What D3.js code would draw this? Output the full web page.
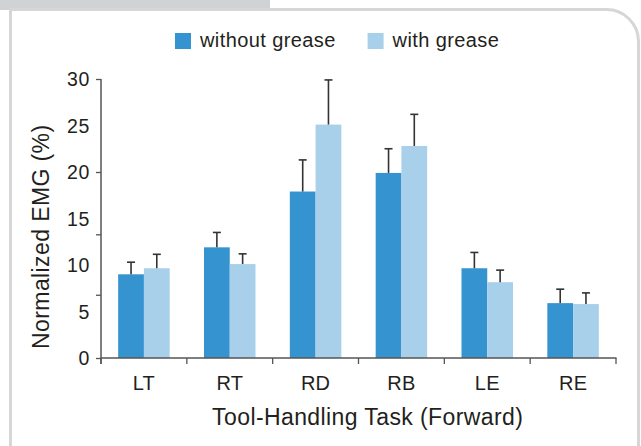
<!DOCTYPE html>
<html>
<head>
<meta charset="utf-8">
<script src="https://cdn.jsdelivr.net/npm/d3@7"></script>
<style>
  body { margin: 0; background: #fff; }
  svg text { font-family: "Liberation Sans", Arial, sans-serif; fill: #231f20; }
</style>
</head>
<body>
<div id="chart"></div>
<script>
// Chart values
var categories = ["LT", "RT", "RD", "RB", "LE", "RE"];
var seriesNames = ["without grease", "with grease"];
var withoutGrease = [9.0, 11.9, 17.9, 19.9, 9.65, 5.9];
var withoutGreaseErr = [1.3, 1.6, 3.4, 2.6, 1.7, 1.5];
var withGrease = [9.65, 10.1, 25.1, 22.8, 8.15, 5.8];
var withGreaseErr = [1.5, 1.1, 4.8, 3.4, 1.3, 1.2];
var yTickLabels = [0, 5, 10, 15, 20, 25, 30];
var yTickMarks = [0, 6.8, 13.3, 20, 30];

var width = 641, height = 446;
var colors = {"without grease": "#3593d0", "with grease": "#a9d0ea"};

var svg = d3.select("#chart").append("svg")
  .attr("width", width)
  .attr("height", height);

// Panel: tab at top left, rounded white box with gray border
svg.append("rect")
  .attr("x", 0).attr("y", 0)
  .attr("width", 270).attr("height", 10)
  .attr("fill", "#d1d2d4");
svg.append("path")
  .attr("d", "M10.5,460 L10.5,9.5 L606,9.5 A32,32 0 0 1 638.5,41.5 L638.5,460")
  .attr("fill", "none")
  .attr("stroke", "#d6d6d6")
  .attr("stroke-width", 3);

// Scales
var y = d3.scaleLinear().domain([0, 30]).range([358, 79]);
var x0 = d3.scaleBand().domain(categories).range([101, 616]);
var x1 = d3.scaleBand().domain(seriesNames)
  .range([x0.bandwidth() * 0.2, x0.bandwidth() * 0.8]);

// Build rows for each bar
var rows = [];
categories.forEach(function(c, i) {
  rows.push({cat: c, s: seriesNames[0], v: withoutGrease[i], e: withoutGreaseErr[i]});
  rows.push({cat: c, s: seriesNames[1], v: withGrease[i], e: withGreaseErr[i]});
});

// Bars
svg.append("g").selectAll("rect")
  .data(rows)
  .enter().append("rect")
  .attr("x", function(d) { return x0(d.cat) + x1(d.s); })
  .attr("y", function(d) { return y(d.v); })
  .attr("width", x1.bandwidth())
  .attr("height", function(d) { return y(0) - y(d.v); })
  .attr("fill", function(d) { return colors[d.s]; });

// Error bars (upper only)
var err = svg.append("g")
  .attr("stroke", "#333")
  .attr("stroke-width", 1.6);
err.selectAll("line.stem")
  .data(rows)
  .enter().append("line")
  .attr("class", "stem")
  .attr("x1", function(d) { return x0(d.cat) + x1(d.s) + x1.bandwidth() / 2; })
  .attr("x2", function(d) { return x0(d.cat) + x1(d.s) + x1.bandwidth() / 2; })
  .attr("y1", function(d) { return y(d.v); })
  .attr("y2", function(d) { return y(d.v + d.e); });
err.selectAll("line.cap")
  .data(rows)
  .enter().append("line")
  .attr("class", "cap")
  .attr("x1", function(d) { return x0(d.cat) + x1(d.s) + x1.bandwidth() / 2 - 4; })
  .attr("x2", function(d) { return x0(d.cat) + x1(d.s) + x1.bandwidth() / 2 + 4; })
  .attr("y1", function(d) { return y(d.v + d.e); })
  .attr("y2", function(d) { return y(d.v + d.e); });

// Y axis: tick marks and labels are not at the same values in the figure
var yAxis = svg.append("g")
  .attr("transform", "translate(101,0)")
  .call(d3.axisLeft(y).tickValues(yTickMarks).tickSize(5).tickFormat(""));
yAxis.select(".domain").attr("stroke", "#555").attr("stroke-width", 1.5)
  .attr("d", "M0," + y(30) + "V" + (y(0) + 6));
yAxis.selectAll(".tick line").attr("stroke", "#555").attr("stroke-width", 1.3);

svg.append("g").selectAll("text")
  .data(yTickLabels)
  .enter().append("text")
  .attr("x", 90)
  .attr("y", function(d) { return y(d); })
  .attr("dy", "0.36em")
  .attr("text-anchor", "end")
  .attr("font-size", 19.5)
  .attr("letter-spacing", 0.6)
  .text(function(d) { return d; });

// X axis: ticks sit at the band edges
var bandEdges = categories.map(function(c) { return x0(c); }).concat([x0.range()[1]]);
var xAxis = svg.append("g").attr("transform", "translate(0," + y(0) + ")");
xAxis.append("line")
  .attr("x1", 101).attr("x2", 616.5)
  .attr("stroke", "#555").attr("stroke-width", 1.6);
xAxis.selectAll("line.tick")
  .data(bandEdges)
  .enter().append("line")
  .attr("class", "tick")
  .attr("x1", function(d) { return d; })
  .attr("x2", function(d) { return d; })
  .attr("y1", 0).attr("y2", 6)
  .attr("stroke", "#555").attr("stroke-width", 1.3);
xAxis.selectAll("text")
  .data(categories)
  .enter().append("text")
  .attr("x", function(d) { return x0(d) + x0.bandwidth() / 2; })
  .attr("y", 31.5)
  .attr("text-anchor", "middle")
  .attr("font-size", 20)
  .attr("letter-spacing", 0.2)
  .text(function(d) { return d; });

// Axis titles
svg.append("text")
  .attr("x", 367.7).attr("y", 425)
  .attr("text-anchor", "middle")
  .attr("font-size", 23)
  .attr("letter-spacing", 0.4)
  .text("Tool-Handling Task (Forward)");
svg.append("text")
  .attr("transform", "translate(49,236.7) rotate(-90)")
  .attr("text-anchor", "middle")
  .attr("font-size", 23)
  .attr("letter-spacing", 0.4)
  .text("Normalized EMG (%)");

// Legend
var legendX = [175, 367.6];
var legend = svg.append("g").selectAll("g")
  .data(seriesNames)
  .enter().append("g")
  .attr("transform", function(d, i) { return "translate(" + legendX[i] + ",33)"; });
legend.append("rect")
  .attr("width", 16).attr("height", 16)
  .attr("fill", function(d) { return colors[d]; });
legend.append("text")
  .attr("x", 25).attr("y", 14)
  .attr("font-size", 20)
  .attr("letter-spacing", 0.4)
  .text(function(d) { return d; });
</script>
</body>
</html>
